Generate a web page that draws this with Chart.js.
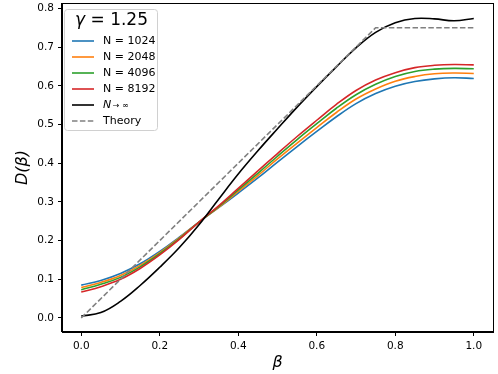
<!DOCTYPE html>
<html>
<head>
<meta charset="utf-8">
<script src="https://cdn.jsdelivr.net/npm/chart.js@4/dist/chart.umd.min.js"></script>
<style>
  html, body { margin: 0; padding: 0; background: #fff; }
  #wrap { width: 498px; height: 374px; }
</style>
</head>
<body>
<div id="wrap"><canvas id="chart" width="498" height="374"></canvas></div>
<script>
// values
const beta = [0, 0.05, 0.1, 0.15, 0.2, 0.25, 0.3, 0.35, 0.4, 0.45, 0.5,
  0.55, 0.6, 0.65, 0.7, 0.75, 0.8, 0.85, 0.9, 0.95, 1.0]

const n1024 = [0.085, 0.097, 0.115, 0.140, 0.172, 0.209, 0.248, 0.285, 0.323, 0.362, 0.403,
  0.443, 0.482, 0.520, 0.554, 0.580, 0.599, 0.611, 0.618, 0.621, 0.619]
const n2048 = [0.079, 0.092, 0.110, 0.136, 0.169, 0.207, 0.248, 0.286, 0.327, 0.368, 0.411,
  0.452, 0.492, 0.531, 0.566, 0.592, 0.612, 0.624, 0.631, 0.633, 0.632]
const n4096 = [0.073, 0.087, 0.105, 0.132, 0.166, 0.205, 0.248, 0.288, 0.331, 0.374, 0.418,
  0.461, 0.502, 0.542, 0.577, 0.604, 0.624, 0.637, 0.643, 0.645, 0.644]
const n8192 = [0.067, 0.081, 0.100, 0.128, 0.163, 0.203, 0.248, 0.290, 0.335, 0.380, 0.425,
  0.469, 0.511, 0.552, 0.588, 0.615, 0.634, 0.647, 0.653, 0.655, 0.654]
const nInf = [0.005, 0.014, 0.043, 0.084, 0.131, 0.182, 0.241, 0.307, 0.372, 0.432, 0.489,
  0.545, 0.598, 0.649, 0.698, 0.738, 0.763, 0.774, 0.773, 0.768, 0.774]

const theoryX = [0, 0.75, 1.0]
const theoryY = [0, 0.75, 0.75]

const xTicks = [0, 0.2, 0.4, 0.6, 0.8, 1.0]
const yTicks = [0, 0.1, 0.2, 0.3, 0.4, 0.5, 0.6, 0.7, 0.8]

const legendTitle = '1.25'

const pts = (xs, ys) => xs.map((x, i) => ({ x: x, y: ys[i] }))

const FONT = 'DejaVu Sans'

const curve = function (label, ys, color, order) {
  return {
    label: label,
    data: pts(beta, ys),
    borderColor: color,
    backgroundColor: color,
    borderWidth: 1.6,
    pointRadius: 0,
    tension: 0.4,
    order: order
  }
}

// draws the top/right spines and the matplotlib-style legend
const framePlugin = {
  id: 'frame',
  afterDraw(chart) {
    const ctx = chart.ctx
    const a = chart.chartArea
    ctx.save()
    ctx.strokeStyle = '#000'
    ctx.lineWidth = 1
    ctx.strokeRect(Math.round(a.left) - 0.5, Math.round(a.top) + 0.5,
      Math.round(a.right - a.left) + 1, Math.round(a.bottom - a.top) - 1)

    // legend box
    const bx = 64, by = 9, bw = 93, bh = 121
    ctx.fillStyle = 'rgba(255,255,255,0.85)'
    ctx.strokeStyle = '#d0d0d0'
    ctx.lineWidth = 1
    ctx.beginPath()
    ctx.roundRect(bx + 0.5, by + 0.5, bw, bh, 3)
    ctx.fill()
    ctx.stroke()

    // title: italic gamma + " = 1.25"
    ctx.fillStyle = '#000'
    ctx.textBaseline = 'middle'
    ctx.textAlign = 'left'
    const g = 'γ', rest = ' = ' + legendTitle
    ctx.font = 'italic 17px ' + FONT
    const gw = ctx.measureText(g).width
    ctx.font = 'normal 17px ' + FONT
    const rw = ctx.measureText(rest).width
    let tx = bx + bw / 2 - (gw + rw) / 2 + 1
    ctx.font = 'italic 17px ' + FONT
    ctx.fillText(g, tx, 21)
    ctx.font = 'normal 17px ' + FONT
    ctx.fillText(rest, tx + gw, 21)

    const ds = chart.data.datasets
    ds.forEach(function (d, i) {
      const y = 41 + i * 16
      ctx.strokeStyle = d.borderColor
      ctx.lineWidth = 1.6
      ctx.setLineDash(d.borderDash || [])
      ctx.beginPath()
      ctx.moveTo(72, y)
      ctx.lineTo(94, y)
      ctx.stroke()
      ctx.setLineDash([])
      ctx.fillStyle = '#000'
      if (d.label === 'N → ∞') {
        ctx.font = 'italic 11px ' + FONT
        ctx.fillText('N', 103, y)
        const nw = ctx.measureText('N').width
        ctx.font = 'normal 8px ' + FONT
        ctx.fillText('→ ∞', 103 + nw + 1.5, y + 0.5)
      } else {
        ctx.font = 'normal 11px ' + FONT
        ctx.fillText(d.label, 103, y)
      }
    })
    ctx.restore()
  }
}

new Chart(document.getElementById('chart'), {
  type: 'line',
  data: {
    datasets: [
      curve('N = 1024', n1024, '#1f77b4', 6),
      curve('N = 2048', n2048, '#ff7f0e', 5),
      curve('N = 4096', n4096, '#2ca02c', 4),
      curve('N = 8192', n8192, '#d62728', 3),
      curve('N → ∞', nInf, '#000000', 2),
      {
        label: 'Theory',
        data: pts(theoryX, theoryY),
        borderColor: '#808080',
        backgroundColor: '#808080',
        borderWidth: 1.6,
        borderDash: [5.5, 2.4],
        pointRadius: 0,
        tension: 0,
        order: 1
      }
    ]
  },
  options: {
    responsive: false,
    animation: false,
    layout: { padding: { left: 0, top: 3, right: 5, bottom: 0 } },
    plugins: {
      legend: { display: false },
      tooltip: { enabled: false }
    },
    scales: {
      x: {
        type: 'linear',
        min: -0.049,
        max: 1.049,
        afterBuildTicks: function (scale) {
          scale.ticks = xTicks.map(v => ({ value: v }))
        },
        afterFit: function (scale) {
          scale.height = 42
          scale.paddingLeft = 0
          scale.paddingRight = 0
        },
        grid: { drawOnChartArea: false, drawTicks: true, tickLength: 4, color: '#000' },
        border: { display: true, color: '#000', width: 1 },
        ticks: {
          color: '#000',
          padding: 4,
          maxRotation: 0,
          font: { family: FONT, size: 10.5 },
          callback: v => Number(v).toFixed(1)
        },
        title: {
          display: true,
          text: 'β',
          color: '#000',
          font: { family: FONT, size: 16, style: 'italic' },
          padding: { top: 0, bottom: 2 }
        }
      },
      y: {
        type: 'linear',
        min: -0.0362,
        max: 0.814,
        afterBuildTicks: function (scale) {
          scale.ticks = yTicks.map(v => ({ value: v }))
        },
        afterFit: function (scale) {
          scale.width = 62
          scale.paddingTop = 0
          scale.paddingBottom = 0
        },
        grid: { drawOnChartArea: false, drawTicks: true, tickLength: 4, color: '#000' },
        border: { display: true, color: '#000', width: 1 },
        ticks: {
          color: '#000',
          padding: 4,
          font: { family: FONT, size: 10.5 },
          callback: v => Number(v).toFixed(1)
        },
        title: {
          display: true,
          text: 'D(β)',
          color: '#000',
          font: { family: FONT, size: 16, style: 'italic' },
          padding: { top: 13, bottom: 0 }
        }
      }
    }
  },
  plugins: [framePlugin]
})
</script>
</body>
</html>
